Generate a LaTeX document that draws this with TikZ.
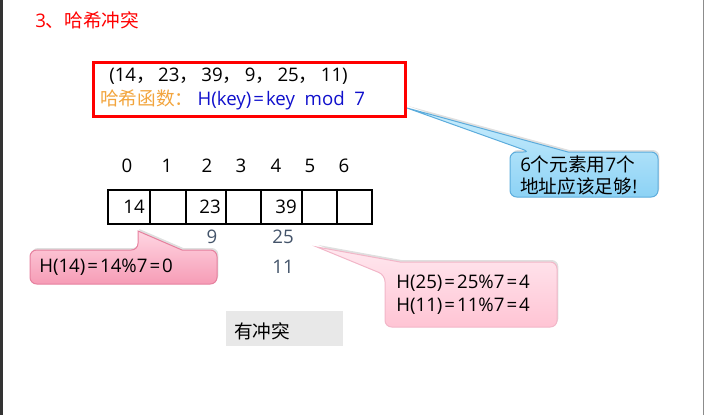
\documentclass[tikz,border=0pt]{standalone}
\usepackage{fontspec}
\setmainfont{Open Sans}
\newfontfamily\cjk{Noto Sans CJK SC}
\usetikzlibrary{shadows}

\definecolor{hashred}{RGB}{255,0,0}
\definecolor{hashorange}{RGB}{242,165,62}
\definecolor{hashblue}{RGB}{16,16,204}
\definecolor{slotgray}{RGB}{68,84,106}
\definecolor{pinkedge}{RGB}{230,128,158}
\definecolor{pinktop}{RGB}{255,214,226}
\definecolor{pinkbot}{RGB}{246,156,182}
\definecolor{lpinkedge}{RGB}{242,182,200}
\definecolor{lpinktop}{RGB}{255,232,239}
\definecolor{lpinkbot}{RGB}{255,196,212}
\definecolor{blueedge}{RGB}{92,172,220}
\definecolor{bluetop}{RGB}{204,238,253}
\definecolor{bluebot}{RGB}{140,210,245}
\definecolor{notegray}{RGB}{232,232,232}

\newcommand{\eqsign}{\kern1.5pt=\kern1.5pt}
\newcommand{\zhcomma}{{\cjk ，}\kern2.5pt}

\tikzset{
  txt/.style={inner sep=0.75pt, font=\fontsize{14}{17}\selectfont},
  notetxt/.style={txt, align=left, anchor=west},
  bubble/.style={line width=0.75pt, drop shadow={opacity=0.25, shadow xshift=1pt, shadow yshift=1.5pt}},
}

\begin{document}
\begin{tikzpicture}[x=0.75pt,y=0.75pt,yscale=-1,xscale=1]
%set diagram left start at 0, and has height of 415
\path[use as bounding box] (0,0) rectangle (705,415);

%Slide edges
\fill[black!80] (0,0) rectangle (3,415);
\draw[black!45] (703.5,0) -- (703.5,415);

% Title
\node[txt, anchor=west, text=hashred] (title) at (34,20) {3{\cjk 、哈希冲突}};

%Shape: Rectangle (formula box)
\draw[hashred, line width=2.25pt] (93,62) rectangle (405,116);
\node[txt, anchor=west] (keys) at (108,76) {(14\zhcomma 23\zhcomma 39\zhcomma 9\zhcomma 25\zhcomma 11)};
\node[txt, anchor=west] (hfun) at (99,100) {\textcolor{hashorange}{\cjk 哈希函数：}\kern3pt\textcolor{hashblue}{H(key)\eqsign key\ \ mod\ \ 7}};

% Index row
\foreach \i/\x in {0/127,1/167,2/207,3/241,4/276,5/310,6/344}
  \node[txt] (idx\i) at (\x,166) {\i};

%Shape: Table cells
\foreach \l/\r in {108/150,150/186,186/226,226/261,261/302,302/337,337/372}
  \draw[line width=1.5pt] (\l,190) rectangle (\r,224);

\node[txt] (val14) at (134,207) {14};
\node[txt] (val23) at (210,207) {23};
\node[txt] (val39) at (286,207) {39};

\node[txt, text=slotgray] (val9) at (212,237) {9};
\node[txt, text=slotgray] (val25) at (283,237) {25};
\node[txt, text=slotgray] (val11) at (283,267) {11};

%Shape: Callout (blue)
\path[bubble, draw=blueedge, top color=bluetop, bottom color=bluebot]
  (510,175) [rounded corners=5] -- (510,152) -- (530,152) [sharp corners] -- (407,108) -- (568,152) [rounded corners=5] -- (658,152) -- (658,197) -- (510,197) -- cycle;
\node[notetxt] (enough) at (519,175.5) {6{\cjk 个元素用}7{\cjk 个}\\{\cjk 地址应该足够}!};

%Shape: Callout (pink, left)
\path[bubble, draw=pinkedge, top color=pinktop, bottom color=pinkbot]
  (30,267) [rounded corners=5] -- (30,250) -- (138,250) [sharp corners] -- (138,231) -- (182,250) [rounded corners=5] -- (217,250) -- (217,284) -- (30,284) -- cycle;
\node[notetxt] (h14) at (38,267) {H(14)\eqsign 14\%7\eqsign 0};

%Shape: Callout (pink, right)
\path[bubble, draw=lpinkedge, top color=lpinktop, bottom color=lpinkbot]
  (385,300) [rounded corners=5] -- (385,275) [sharp corners] -- (317,247) -- (400,262) [rounded corners=5] -- (557,262) -- (557,327) -- (385,327) -- cycle;
\node[notetxt] (h25) at (395,295) {H(25)\eqsign 25\%7\eqsign 4\\H(11)\eqsign 11\%7\eqsign 4};

%Shape: Rectangle (conflict)
\fill[notegray] (226,311) rectangle (343,346);
\node[notetxt] (clash) at (233,331) {\cjk 有冲突};

\end{tikzpicture}
\end{document}
